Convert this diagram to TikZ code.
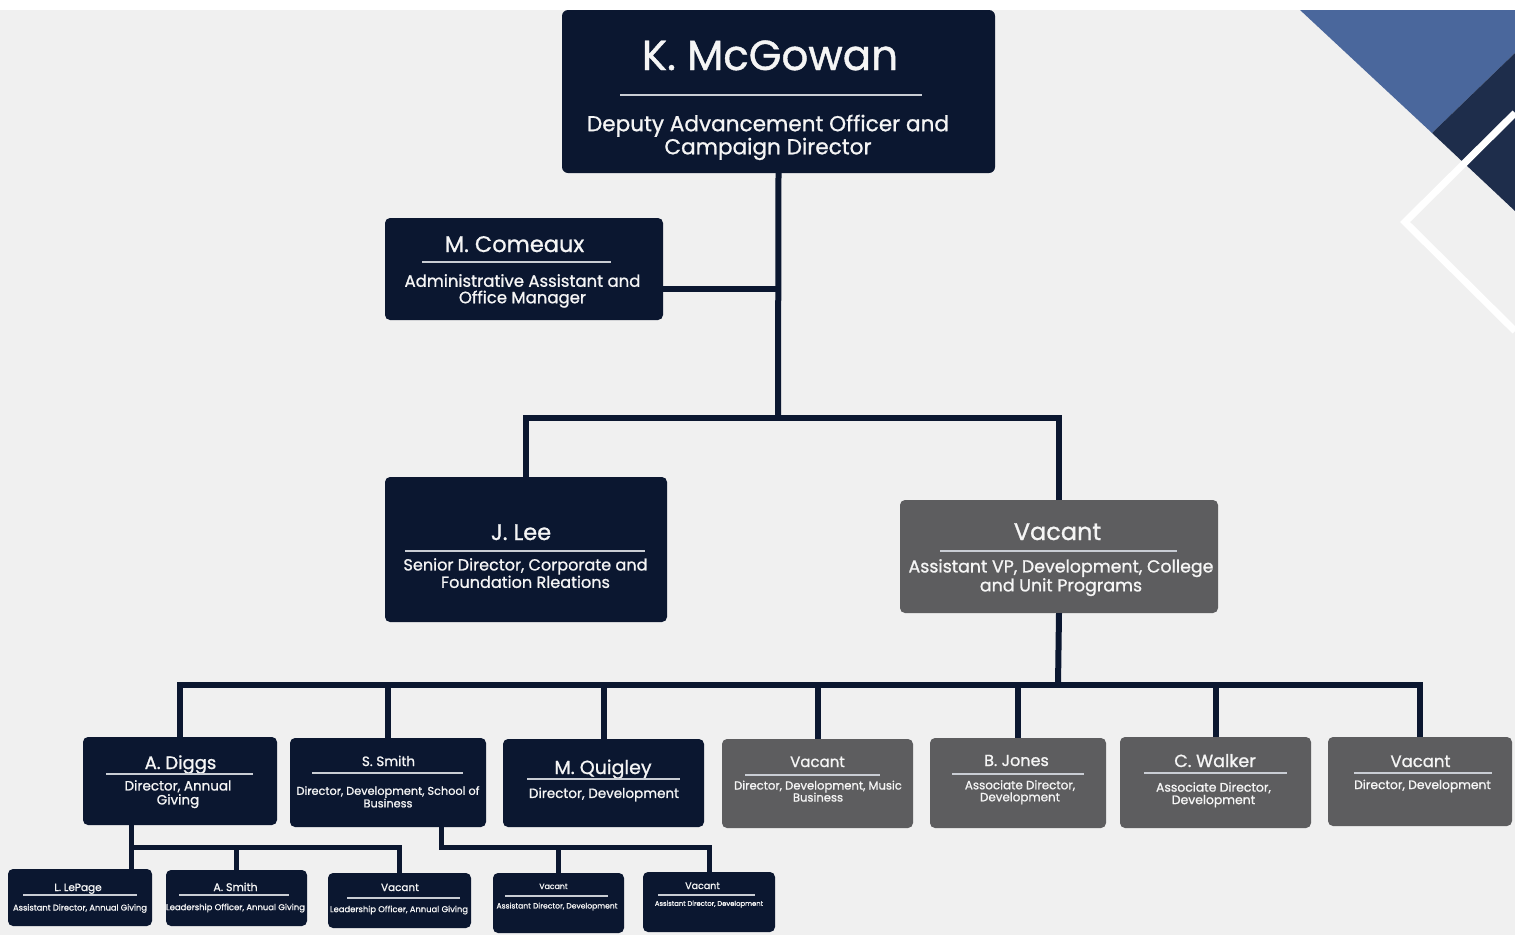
\documentclass[tikz,border=0pt]{standalone}
\usepackage{fontspec}
\setmainfont{Poppins}[FakeBold=1]
\usetikzlibrary{positioning}
\definecolor{navy}{HTML}{0B1730}
\definecolor{slate}{HTML}{5D5D5F}
\definecolor{paper}{HTML}{F0F0F0}
\definecolor{steel}{HTML}{4A679C}
\definecolor{deep}{HTML}{1E2D4B}
\definecolor{rulegray}{HTML}{C9CDD4}
\definecolor{ink}{HTML}{F5F5F5}

\begin{document}
\begin{tikzpicture}[x=1pt,y=-1pt,
    card/.style={rounded corners=5pt, inner sep=0pt, minimum width=#1},
    navybox/.style={card=#1, fill=navy},
    slatebox/.style={card=#1, fill=slate},
    who/.style={font=\fontsize{#1}{#1}\selectfont, text=ink, inner sep=0pt, anchor=base},
    role/.style 2 args={font=\fontsize{#1}{#2}\selectfont, text=ink, inner sep=0pt, anchor=north, align=center},
    cardrule/.style={rulegray, line width=#1}, cardrule/.default=2pt,
    link/.style={navy, line width=#1}, link/.default=6pt]

  % Background
  \fill[white] (0,0) rectangle (1515,935);
  \fill[paper] (0,10) rectangle (1515,935);
  \useasboundingbox (0,0) rectangle (1515,935);

  % Corner decoration
  \fill[steel] (1300,10) -- (1515,10) -- (1515,53) -- (1432,133) -- cycle;
  \fill[deep] (1432,133) -- (1515,53) -- (1515,211) -- cycle;
  \draw[white, line width=7pt] (1515,113) -- (1405,222) -- (1515,331);

  % Top
  \node[navybox=433pt, minimum height=163pt, rounded corners=6pt] (mcgowan) at (778.5,91.5) {};
  \node[who=42] (mcgowan-n) at (770,70) {K. McGowan};
  \draw[cardrule=2.5pt] (620,95) -- (922,95);
  \node[role={21.6}{22}] (mcgowan-r) at (768,114.5) {Deputy Advancement Officer and\\Campaign Director};

  % Second level
  \node[navybox=278pt, minimum height=102pt] (comeaux) at (524,269) {};
  \node[who=22.5] (comeaux-n) at (514.5,252) {M. Comeaux};
  \draw[cardrule] (422,262) -- (611,262);
  \node[role={16.5}{16.5}] (comeaux-r) at (522.5,274) {Administrative Assistant and\\Office Manager};

  \node[navybox=282pt, minimum height=145pt] (lee) at (526,549.5) {};
  \node[who=22.5] (lee-n) at (521,540) {J. Lee};
  \draw[cardrule] (405,551) -- (645,551);
  \node[role={16.1}{15.5}] (lee-r) at (525.5,558) {Senior Director, Corporate and\\Foundation Rleations};

  \node[slatebox=318pt, minimum height=113pt] (avp) at (1059,556.5) {};
  \node[who=24] (avp-n) at (1057.5,540) {Vacant};
  \draw[cardrule] (940,551) -- (1177,551);
  \node[role={17.4}{17}] (avp-r) at (1061,559) {Assistant VP, Development, College\\and Unit Programs};

  % Third level
  \node[navybox=194pt, minimum height=88pt] (diggs) at (180,781) {};
  \node[who=18] (diggs-n) at (180.5,769) {A. Diggs};
  \draw[cardrule] (106,774) -- (253,774);
  \node[role={13.5}{14}] (diggs-r) at (178,780) {Director, Annual\\Giving};

  \node[navybox=196pt, minimum height=89pt] (ssmith) at (388,782.5) {};
  \node[who=13.5] (ssmith-n) at (388.5,766) {S. Smith};
  \draw[cardrule] (312,773) -- (463,773);
  \node[role={11.3}{11.5}] (ssmith-r) at (388,786) {Director, Development, School of\\Business};

  \node[navybox=201pt, minimum height=88pt] (quigley) at (603.5,783) {};
  \node[who=19] (quigley-n) at (603,774) {M. Quigley};
  \draw[cardrule] (527,779) -- (680,779);
  \node[role={13.5}{14}] (quigley-r) at (604,787.5) {Director, Development};

  \node[slatebox=191pt, minimum height=89pt] (vacmusic) at (817.5,783.5) {};
  \node[who=15] (vacmusic-n) at (817.5,767) {Vacant};
  \draw[cardrule] (745,775) -- (880,775);
  \node[role={11.6}{12}] (vacmusic-r) at (818,780.5) {Director, Development, Music\\Business};

  \node[slatebox=176pt, minimum height=90pt] (bjones) at (1018,783) {};
  \node[who=16] (bjones-n) at (1016.5,766) {B. Jones};
  \draw[cardrule] (952,774) -- (1084,774);
  \node[role={11.9}{12}] (bjones-r) at (1020,780) {Associate Director,\\Development};

  \node[slatebox=191pt, minimum height=91pt] (cwalker) at (1215.5,782.5) {};
  \node[who=17.5] (cwalker-n) at (1215,767) {C. Walker};
  \draw[cardrule] (1144,773) -- (1287,773);
  \node[role={12.4}{12.5}] (cwalker-r) at (1213.5,782) {Associate Director,\\Development};

  \node[slatebox=184pt, minimum height=89pt] (vacdev) at (1420,781.5) {};
  \node[who=16.5] (vacdev-n) at (1420.5,767) {Vacant};
  \draw[cardrule] (1354,773) -- (1492,773);
  \node[role={12.3}{13}] (vacdev-r) at (1422.5,779.5) {Director, Development};

  % Fourth level
  \node[navybox=144pt, minimum height=57pt] (lepage) at (80,897.5) {};
  \node[who=10.5] (lepage-n) at (78,891) {L. LePage};
  \draw[cardrule=1.5pt] (23,895) -- (137,895);
  \node[role={8.3}{8}] (lepage-r) at (80,904) {Assistant Director, Annual Giving};

  \node[navybox=141pt, minimum height=56pt] (asmith) at (236.5,898) {};
  \node[who=11] (asmith-n) at (235.5,891) {A. Smith};
  \draw[cardrule=1.5pt] (179,895) -- (289,895);
  \node[role={8.45}{8}] (asmith-r) at (235.5,903.5) {Leadership Officer, Annual Giving};

  \node[navybox=143pt, minimum height=55pt] (vaclo) at (399.5,900.5) {};
  \node[who=10.4] (vaclo-n) at (400,891) {Vacant};
  \draw[cardrule=1.5pt] (347,898) -- (460,898);
  \node[role={8.4}{8}] (vaclo-r) at (399,905.5) {Leadership Officer, Annual Giving};

  \node[navybox=131pt, minimum height=60pt] (vacad) at (558.5,903) {};
  \node[who=7.8] (vacad-n) at (553.5,889) {Vacant};
  \draw[cardrule=1.5pt] (505,896) -- (608,896);
  \node[role={7.6}{8}] (vacad-r) at (557,902.5) {Assistant Director, Development};

  \node[navybox=132pt, minimum height=60pt] (vacadb) at (709,902) {};
  \node[who=9.5] (vacadb-n) at (702.5,889) {Vacant};
  \draw[cardrule=1.5pt] (658,895) -- (755,895);
  \node[role={6.8}{7}] (vacadb-r) at (709,900.5) {Assistant Director, Development};

  % Connectors
  \coordinate (trunk) at (778,418);
  \coordinate (branch) at (1058,685);
  \coordinate (annual) at (131,847);
  \coordinate (devel) at (441,847);

  \draw[link] (mcgowan.south) -- (trunk);
  \draw[link] ([yshift=-20pt]comeaux.east) -- ([yshift=-20pt]comeaux.east -| trunk);
  \draw[link] (lee.north) |- (trunk) -| (avp.north);
  \draw[link] (avp.south) -- (branch);
  \foreach \n in {diggs,ssmith,quigley,vacmusic,bjones,cwalker,vacdev}
    \draw[link] (branch) -| (\n.north);

  \draw[link=5pt] (diggs.south -| annual) -- (lepage.north -| annual);
  \draw[link=5pt] (annual) -| (asmith.north);
  \draw[link=5pt] (annual) -| (vaclo.north);
  \draw[link=5pt] (ssmith.south -| devel) -- (devel) -| (vacad.north);
  \draw[link=5pt] (devel) -| (vacadb.north);
\end{tikzpicture}
\end{document}
